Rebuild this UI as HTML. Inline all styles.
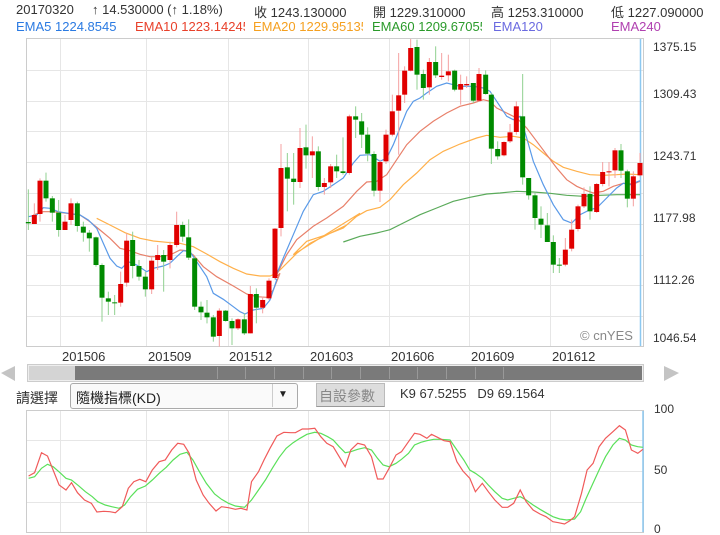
<!DOCTYPE html>
<html><head><meta charset="utf-8">
<style>
body{margin:0;width:720px;height:535px;background:#fff;position:relative;overflow:hidden;font-family:"Liberation Sans","Noto Sans CJK TC",sans-serif;font-size:13px;color:#333}
.a{position:absolute;white-space:nowrap}
.c{overflow:hidden}
</style></head><body>
<div class="a" style="left:16px;top:2px">20170320</div>
<div class="a" style="left:92px;top:2px">↑ 14.530000 (↑ 1.18%)</div>
<div class="a" style="left:254px;top:2px">收 1243.130000</div>
<div class="a" style="left:373px;top:2px">開 1229.310000</div>
<div class="a" style="left:491px;top:2px">高 1253.310000</div>
<div class="a" style="left:611px;top:2px">低 1227.090000</div>
<div class="a c" style="left:16px;top:19px;width:115px;color:#2a7ae2">EMA5 1224.8545</div>
<div class="a c" style="left:135px;top:19px;width:110px;color:#e8402a">EMA10 1223.14245</div>
<div class="a c" style="left:253px;top:19px;width:110px;color:#f5a020">EMA20 1229.95135</div>
<div class="a c" style="left:372px;top:19px;width:110px;color:#2a9a2a">EMA60 1209.67055</div>
<div class="a" style="left:493px;top:19px;color:#6a6ae0">EMA120</div>
<div class="a" style="left:611px;top:19px;color:#b040b0">EMA240</div>

<svg class="a" style="left:0;top:0" width="720" height="535" id="s">
<rect x="26.5" y="38.5" width="617" height="308" fill="#fff" stroke="#ccc"/>
<g stroke="#e6e6e6" stroke-width="1" id="grid"></g>
<line x1="640.5" y1="39" x2="640.5" y2="346" stroke="#8cc8f0" stroke-width="1.5"/>
<g id="ema" fill="none" stroke-width="1.2"></g>
<g id="cd"></g>
<text x="580" y="340" font-size="13" fill="#888" font-family="Liberation Sans">© cnYES</text>
<g font-size="12" fill="#333" font-family="Liberation Sans">
<text x="653" y="51">1375.15</text><text x="653" y="98">1309.43</text><text x="653" y="160">1243.71</text><text x="653" y="222">1177.98</text><text x="653" y="284">1112.26</text><text x="653" y="342">1046.54</text>
</g>
<g font-size="13" fill="#333" font-family="Liberation Sans">
<text x="62" y="361">201506</text><text x="148" y="361">201509</text><text x="229" y="361">201512</text><text x="310" y="361">201603</text><text x="391" y="361">201606</text><text x="471" y="361">201609</text><text x="552" y="361">201612</text>
</g>
<!-- scrollbar -->
<rect x="27.5" y="364.5" width="616" height="17" fill="#eee" stroke="#ccc"/>
<rect x="29" y="366" width="613" height="14" fill="#7a7a7a"/>
<rect x="29" y="366" width="46" height="14" fill="#d4d4d4"/>
<g stroke="#999" id="sdiv"></g>
<polygon points="1,373 15,366 15,381" fill="#c4c4c4"/>
<polygon points="679,373 664,366 664,381" fill="#c4c4c4"/>
<!-- KD panel -->
<rect x="26.5" y="410.5" width="617" height="122" fill="#fff" stroke="#ccc"/>
<g stroke="#e6e6e6" id="kgrid"></g>
<line x1="643" y1="411" x2="643" y2="532" stroke="#8cc8f0" stroke-width="1.5"/>
<g font-size="12" fill="#333" font-family="Liberation Sans">
<text x="654" y="413">100</text><text x="654" y="474">50</text><text x="654" y="533">0</text>
</g>
<g id="kd" fill="none" stroke-width="1.2"></g>
</svg>

<div class="a" style="left:16px;top:388px;font-size:14px">請選擇</div>
<div class="a" style="left:70px;top:383px;width:226px;height:24px;border:1px solid #aaa;border-radius:3px;background:#fafafa"></div>
<div class="a" style="left:272px;top:384px;width:1px;height:23px;background:#ccc"></div>
<div class="a" style="left:76px;top:388px;font-size:14px;color:#222">隨機指標(KD)</div>
<div class="a" style="left:278px;top:389px;font-size:10px;color:#222">▼</div>
<div class="a" style="left:316px;top:383px;width:67px;height:22px;background:#ddd;border:1px solid #bbb;border-bottom-color:#999"></div>
<div class="a" style="left:319px;top:386px;font-size:14px;color:#888">自設參數</div>
<div class="a" style="left:400px;top:386px;font-size:13px">K9 67.5255 &nbsp; D9 69.1564</div>

<script>
var NS="http://www.w3.org/2000/svg";
function el(p,t,a){var e=document.createElementNS(NS,t);for(var k in a)e.setAttribute(k,a[k]);p.appendChild(e);return e;}
var g=document.getElementById('grid');
[60,146,228,308,389,469,550].forEach(function(x){el(g,'line',{x1:x+.5,y1:39,x2:x+.5,y2:346});});
[70,101,131,162,193,224,255,285,316].forEach(function(y){el(g,'line',{x1:27,y1:y+.5,x2:643,y2:y+.5});});
var kg=document.getElementById('kgrid');
[60,146,228,308,389,469,550].forEach(function(x){el(kg,'line',{x1:x+.5,y1:411,x2:x+.5,y2:532});});
[440,471,502].forEach(function(y){el(kg,'line',{x1:27,y1:y+.5,x2:643,y2:y+.5});});
var sd=document.getElementById('sdiv');
[217,245,274,303,331,360,389,417,446,475,503].forEach(function(x){el(sd,'line',{x1:x+.5,y1:367,x2:x+.5,y2:379});});

// candles: zx, bodyTop, bodyBot, wickTop, wickBot, color
var A=[[85,186,190,88,210,0],[103,165,192,130,190,1],[120,62,162,55,185,1],[138,62,115,38,125,0],[157,115,158,108,185,0],[176,158,210,120,230,0],[195,185,210,165,210,1],[213,130,180,115,195,1],[232,130,198,125,215,0],[250,200,218,185,245,0],[268,218,235,210,275,0],[288,232,315,230,320,0],[306,315,413,310,485,0],[325,415,425,395,465,0],[344,427,430,405,465,0],[362,372,428,335,440,1],[380,242,368,220,380,1],[398,240,318,215,355,0],[417,318,350,300,362,0],[436,350,388,335,410,0],[455,302,388,292,402,1],[473,285,300,255,330,1],[491,285,305,270,395,0],[510,255,300,245,325,1],[530,195,255,155,262,1],[548,195,230,185,245,0],[566,232,293,178,300,0],[584,295,440,290,450,0],[603,440,457,425,480,0],[621,458,472,420,490,0],[640,472,530,465,545,0],[658,452,528,445,560,1],[677,452,483,450,485,0],[696,483,505,475,555,0],[714,478,505,475,510,1],[733,478,520,460,525,0],[751,402,520,378,520,1],[769,402,443,385,490,0],[788,420,443,410,460,1],[807,362,415,355,420,1]];
var B=[[45,572,720,570,725,1],[63,390,570,318,595,1],[82,388,422,345,520,0],[101,422,432,345,500,0],[120,330,432,270,450,1],[138,328,352,260,392,0],[157,340,352,295,420,1],[175,340,447,325,458,0],[193,435,447,420,470,1],[212,385,433,378,450,1],[230,385,400,350,420,0],[249,400,405,298,410,0],[268,235,405,230,410,1],[287,235,245,205,300,0],[305,250,290,225,330,0],[323,290,347,268,370,0],[342,348,458,340,475,0],[360,372,458,365,492,1],[378,290,370,275,378,1],[397,220,290,170,295,1],[416,172,218,45,350,1],[434,98,170,85,195,1],[452,30,98,0,100,1],[471,27,110,5,155,0],[490,108,150,95,185,0],[508,72,148,60,170,1],[527,72,112,25,120,0],[545,113,117,45,125,1],[565,100,112,50,130,1],[584,98,155,95,160,0],[602,138,155,110,200,1],[620,138,142,115,150,1],[640,135,188,135,195,0],[657,108,188,90,190,1],[677,110,168,97,170,0],[694,170,332,165,378,0],[713,333,355,310,365,0],[732,312,352,310,355,1],[750,283,310,258,315,1],[769,205,282,190,290,1],[788,235,418,108,440,0],[806,420,472,420,485,0],[825,472,540,465,575,0],[843,542,560,505,600,0],[862,562,612,525,610,0],[880,612,680,592,705,0],[898,680,683,660,705,0],[916,635,680,600,685,1],[935,575,632,545,640,1],[954,505,573,500,580,1],[972,468,505,448,510,1],[990,468,520,445,545,0],[1010,438,522,435,525,1],[1028,402,438,372,445,1],[1047,400,403,372,445,1],[1065,337,397,330,420,1],[1083,337,398,318,420,0],[1102,400,482,395,508,0],[1120,415,482,400,505,1],[1140,375,412,345,415,1]];
var cd=document.getElementById('cd');
function candle(x,bt,bb,wt,wb,c){
  var col=c?'#e00000':'#008a00',wc=c?'#f4a0a0':'#90d090';
  el(cd,'line',{x1:x,y1:wt,x2:x,y2:wb,stroke:wc,'stroke-width':1});
  el(cd,'rect',{x:x-2.5,y:bt,width:5,height:Math.max(1,bb-bt),fill:col});
}
A.forEach(function(a){candle(a[0]/3,160+a[1]/3,160+a[2]/3,160+a[3]/3,160+a[4]/3,a[5]);});
B.forEach(function(a){candle(260+a[0]/3,38+a[1]/3,38+a[2]/3,Math.max(39,38+a[3]/3),38+a[4]/3,a[5]);});

var em=document.getElementById('ema');
function pl(p,pts,col,f){el(p,'polyline',{points:pts.map(f).join(' '),stroke:col});}
var f3=function(p){return (p[0]/3).toFixed(1)+','+(160+p[1]/3).toFixed(1);};
var f4=function(p){return (260+p[0]/3).toFixed(1)+','+(38+p[1]/3).toFixed(1);};
var bl3=[[85,170],[110,165],[130,143],[150,145],[175,155],[205,160],[240,165],[265,180],[290,205],[310,250],[330,295],[350,318],[365,325],[385,305],[410,315],[440,335],[460,325],[490,318],[510,310],[530,290],[550,272],[570,275],[590,305],[620,350],[640,400],[670,418],[700,440],[720,455],[735,462],[760,450],[790,445],[810,420],[830,360]];
var bl4=[[45,720],[70,660],[100,590],[130,520],[160,470],[190,460],[220,440],[250,420],[280,375],[300,352],[330,350],[360,370],[380,360],[400,320],[420,270],[440,220],[460,190],[480,180],[500,165],[530,145],[560,135],[580,140],[600,145],[640,145],[670,150],[690,160],[710,190],[740,235],[760,245],[780,235],[800,300],[820,370],[850,440],[880,500],[910,545],[935,555],[960,530],[990,515],[1010,510],[1040,480],[1070,450],[1090,436],[1110,440],[1140,428]];
var rd3=[[100,165],[130,155],[160,155],[200,160],[240,165],[270,185],[300,210],[330,235],[360,265],[390,272],[420,283],[450,290],[480,290],[510,285],[540,270],[560,272],[580,285],[610,320],[650,350],[700,378],[740,402],[770,410],[800,412],[820,390],[840,340]];
var rd4=[[45,720],[80,650],[110,605],[160,565],[200,540],[250,505],[290,460],[320,432],[350,430],[380,410],[410,365],[440,320],[480,280],[520,250],[560,225],[600,205],[640,195],[670,185],[690,190],[710,210],[740,225],[770,240],[800,270],[830,310],[860,350],[890,390],[920,425],[950,445],[980,458],[1000,465],[1030,460],[1060,445],[1090,436],[1120,438],[1140,430]];
var or3=[[290,175],[330,195],[375,218],[420,235],[460,243],[500,247],[540,250],[580,260],[620,282],[660,305],[700,325],[740,342],[780,348],[810,348],[830,340],[860,310],[890,280],[930,250],[970,230],[1010,210],[1040,195],[1080,160]];
var or4=[[100,650],[140,610],[200,590],[250,570],[290,535],[320,518],[360,508],[390,485],[430,440],[470,405],[510,365],[550,340],[600,318],[650,300],[680,292],[720,298],[760,295],[790,300],[820,320],[850,345],[880,370],[910,388],[950,400],[990,410],[1030,412],[1070,410],[1100,408],[1140,410]];
var gr4=[[250,612],[300,595],[350,585],[390,575],[430,555],[480,530],[530,510],[580,490],[630,478],[680,468],[720,465],[770,460],[820,462],[870,466],[920,472],[970,475],[1020,472],[1070,470],[1100,470],[1140,470]];
var BL=bl3.map(f3).concat(bl4.map(f4)),RD=rd3.map(f3).concat(rd4.map(f4)),OR=or3.map(f3).concat(or4.map(f4));
el(em,'polyline',{points:OR.join(' '),stroke:'#ffb04a'});
el(em,'polyline',{points:gr4.map(f4).join(' '),stroke:'#5aaa5a'});
el(em,'polyline',{points:RD.join(' '),stroke:'#e8806a'});
el(em,'polyline',{points:BL.join(' '),stroke:'#5a9ae8'});

var K=[[62,228],[75,218],[90,158],[103,168],[115,210],[128,255],[143,270],[155,248],[168,278],[183,300],[198,310],[210,336],[225,334],[238,335],[250,338],[265,320],[278,265],[290,245],[303,238],[316,245],[330,210],[345,185],[358,180],[372,150],[385,130],[398,133],[410,160],[425,240],[440,285],[453,310],[468,333],[480,320],[495,323],[510,328],[522,325],[535,330],[545,245],[560,215],[572,180],[585,145],[600,108],[615,97],[630,98],[640,98],[655,87],[668,87],[682,85],[695,110],[708,130],[722,140],[735,170],[748,200],[760,150],[775,130],[790,135],[805,170],[818,237],[830,237],[843,205],[858,165],[870,155],[885,125],[898,100],[910,103],[925,115],[935,103],[948,112],[962,122],[975,125],[990,185],[1003,213],[1018,235],[1030,275],[1045,250],[1058,275],[1072,300],[1088,322],[1100,322],[1113,310],[1127,270],[1140,305],[1155,330],[1170,342],[1183,350],[1198,365],[1210,368],[1223,372],[1235,362],[1245,350],[1260,280],[1272,210],[1285,190],[1298,140],[1312,115],[1328,95],[1342,77],[1355,90],[1368,150],[1382,160],[1393,148]];
var D=[[62,235],[75,230],[90,205],[103,193],[115,200],[130,218],[143,235],[155,240],[170,257],[185,275],[200,290],[212,305],[228,315],[242,320],[258,325],[270,315],[283,290],[298,268],[315,258],[330,240],[345,220],[360,202],[375,180],[390,163],[405,157],[418,180],[432,215],[447,250],[465,282],[480,298],[495,310],[510,318],[530,322],[545,300],[560,270],[575,240],[590,205],[605,172],[620,145],[635,128],[650,115],[665,103],[682,97],[695,100],[710,110],[722,120],[735,140],[748,158],[760,155],[775,148],[790,143],[805,150],[818,175],[830,195],[843,200],[858,190],[870,178],[885,160],[898,135],[912,127],[925,122],[940,118],[955,118],[975,120],[990,150],[1005,180],[1018,210],[1030,220],[1045,235],[1058,255],[1072,275],[1088,295],[1100,300],[1113,295],[1127,290],[1140,300],[1155,315],[1170,328],[1185,340],[1198,350],[1213,357],[1228,360],[1245,357],[1258,335],[1270,295],[1283,255],[1298,210],[1312,170],[1328,135],[1342,115],[1355,120],[1368,135],[1382,140],[1393,142]];
var fk=function(p){return (p[0]*720/1560).toFixed(1)+','+(400+p[1]/3).toFixed(1);};
var kd=document.getElementById('kd');
el(kd,'polyline',{points:D.map(fk).join(' '),stroke:'#5ae05a'});
el(kd,'polyline',{points:K.map(fk).join(' '),stroke:'#f05a5a'});
</script>
</body></html>
